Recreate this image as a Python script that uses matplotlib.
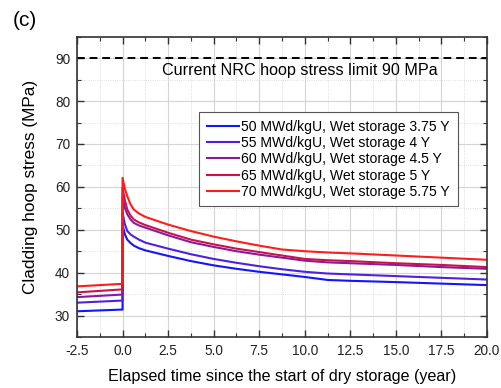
import numpy as np
import matplotlib
matplotlib.use("Agg")
import matplotlib.pyplot as plt
from matplotlib.ticker import MultipleLocator

plt.rcParams['font.family'] = ['Liberation Sans', 'DejaVu Sans']

# elapsed time (year); 0.0 appears twice for the jump at start of dry storage
t = [-2.5, 0.0, 0.0, 0.12, 0.26, 0.44, 0.62, 0.9, 1.25, 2.5, 3.75, 5.0, 6.25,
     7.5, 8.75, 10.0, 11.25, 12.5, 15.0, 17.5, 20.0]

s50 = [31.0, 31.4, 51.2, 49.0, 47.7, 46.9, 46.3, 45.7, 45.2, 43.9, 42.7, 41.7,
       40.9, 40.2, 39.6, 39.0, 38.3, 38.1, 37.8, 37.45, 37.1]
s55 = [33.0, 33.5, 54.0, 51.4, 49.7, 48.9, 48.4, 47.7, 47.0, 45.6, 44.3, 43.2,
       42.3, 41.5, 40.8, 40.2, 39.8, 39.6, 39.2, 38.8, 38.4]
s60 = [34.3, 34.9, 57.5, 55.2, 53.6, 52.4, 51.6, 51.0, 50.5, 48.7, 47.1, 46.0,
       45.0, 44.2, 43.5, 42.8, 42.4, 42.2, 41.8, 41.3, 40.9]
s65 = [35.4, 36.1, 59.8, 57.0, 54.7, 53.3, 52.4, 51.7, 51.1, 49.3, 47.7, 46.6,
       45.6, 44.8, 44.0, 43.2, 42.9, 42.7, 42.2, 41.8, 41.3]
s70 = [36.8, 37.4, 62.1, 59.6, 57.8, 55.9, 54.7, 53.8, 53.0, 51.2, 49.7, 48.4,
       47.3, 46.3, 45.4, 45.0, 44.7, 44.5, 44.0, 43.5, 43.0]

labels = ["50 MWd/kgU, Wet storage 3.75 Y",
          "55 MWd/kgU, Wet storage 4 Y",
          "60 MWd/kgU, Wet storage 4.5 Y",
          "65 MWd/kgU, Wet storage 5 Y",
          "70 MWd/kgU, Wet storage 5.75 Y"]
colors = ["#1414ff", "#4d22dc", "#8a1a9c", "#c8124e", "#ff1c1c"]

nrc_limit = 90

fig = plt.figure(figsize=(5.01, 3.88), dpi=100)
ax = fig.add_axes([0.1537, 0.1314, 0.8183, 0.774])

for series, lab, c in zip([s50, s55, s60, s65, s70], labels, colors):
    ax.plot(t, series, color=c, lw=1.5, label=lab)

ax.axhline(nrc_limit, color='black', lw=1.4, ls=(0, (4, 2.5)))
ax.text(9.75, 87.2, "Current NRC hoop stress limit 90 MPa", ha='center',
        va='center', fontsize=11.6)

ax.set_xlim(-2.5, 20)
ax.set_ylim(25, 95)
ax.xaxis.set_major_locator(MultipleLocator(2.5))
ax.xaxis.set_minor_locator(MultipleLocator(1.25))
ax.yaxis.set_major_locator(MultipleLocator(10))
ax.yaxis.set_minor_locator(MultipleLocator(5))
ax.set_yticks([30, 40, 50, 60, 70, 80, 90])
ax.xaxis.set_major_formatter(matplotlib.ticker.FormatStrFormatter('%.1f'))

ax.grid(True, which='major', color='#d4d4d4', lw=0.8)
ax.grid(True, which='minor', color='#d4d4d4', lw=0.6, ls=':')
ax.set_axisbelow(True)

ax.tick_params(which='both', direction='in', top=True, right=True,
               labelsize=9.8, colors='#333333', labelcolor='#222222')
ax.tick_params(which='major', length=5, width=1.0, pad=5)
ax.tick_params(which='minor', length=3, width=0.8)
for sp in ax.spines.values():
    sp.set_color('#333333')
    sp.set_linewidth(1.2)

ax.set_xlabel("Elapsed time since the start of dry storage (year)", fontsize=11.6,
              labelpad=8)
ax.set_ylabel("Cladding hoop stress (MPa)", fontsize=12.4, labelpad=12)

leg = ax.legend(loc='upper left', bbox_to_anchor=(0.298, 0.749), fontsize=10.1,
                handlelength=2.3, handletextpad=0.15, labelspacing=0.16,
                borderpad=0.55, fancybox=False, framealpha=1, borderaxespad=0)
leg.get_frame().set_edgecolor('#555555')
leg.get_frame().set_linewidth(0.8)

fig.text(0.05, 0.948, "(c)", ha='center', va='center', fontsize=15)

fig.savefig("out.png", dpi=100)
